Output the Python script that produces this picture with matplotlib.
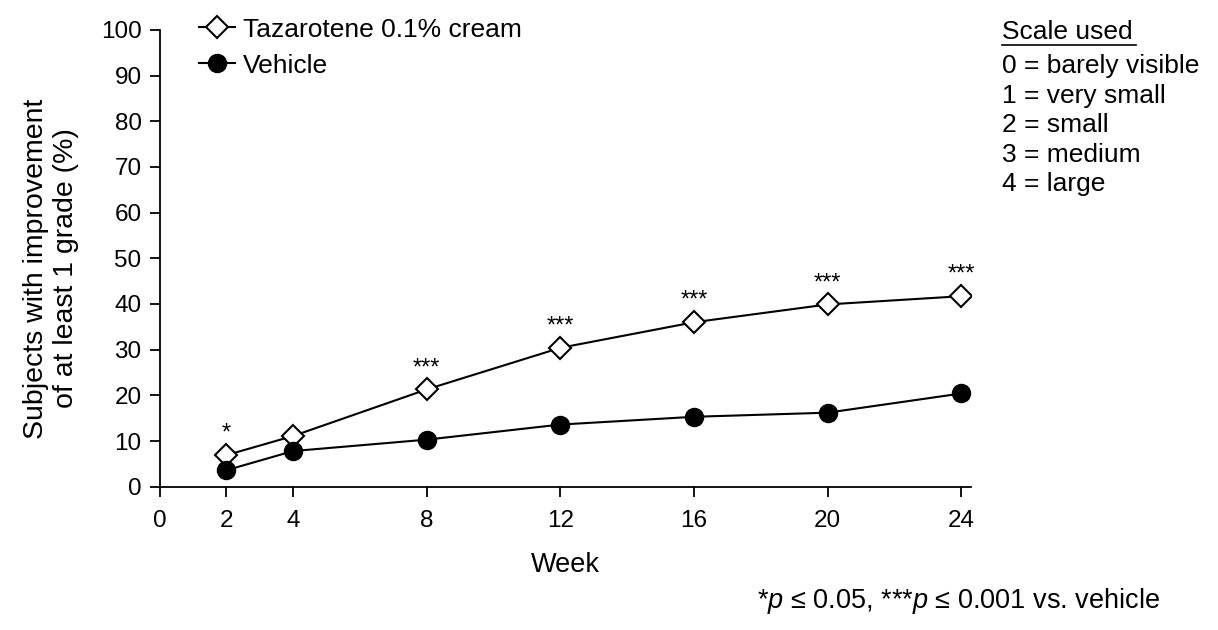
import numpy as np
import matplotlib.pyplot as plt

plt.rcParams['font.family'] = ['Liberation Sans', 'DejaVu Sans']
plt.rcParams['mathtext.fontset'] = 'custom'
plt.rcParams['mathtext.rm'] = 'Liberation Sans'
plt.rcParams['mathtext.it'] = 'Liberation Sans:italic'

weeks = [2, 4, 8, 12, 16, 20, 24]
tazarotene = [6.9, 11.1, 21.3, 30.4, 36.0, 39.9, 41.7]
vehicle = [3.6, 7.8, 10.3, 13.6, 15.3, 16.2, 20.4]
signif = ['*', '', '***', '***', '***', '***', '***']
x_ticks = [0, 2, 4, 8, 12, 16, 20, 24]
scale_lines = ['0 = barely visible', '1 = very small', '2 = small',
               '3 = medium', '4 = large']

fig = plt.figure(figsize=(12.18, 6.3), dpi=100)
ax = fig.add_axes([0.131, 0.2275, 0.6664, 0.725])

ax.plot(weeks, tazarotene, color='black', lw=1.5, marker='D', ms=11,
        mfc='white', mec='black', mew=1.5, label='Tazarotene 0.1% cream',
        zorder=3)
ax.plot(weeks, vehicle, color='black', lw=1.5, marker='o', ms=13,
        mfc='black', mec='black', label='Vehicle', zorder=3)

for w, t, s in zip(weeks, tazarotene, signif):
  if s:
    ax.annotate(s, (w, t), xytext=(0, 11), textcoords='offset points',
                ha='center', va='baseline', fontsize=17)

ax.set_xlim(0, 24.3)
ax.set_ylim(0, 100)
ax.set_xticks(x_ticks)
ax.set_yticks(np.arange(0, 101, 10))
ax.tick_params(direction='out', length=7, width=1.3, labelsize=17.5)
ax.tick_params(axis='x', pad=10)
ax.tick_params(axis='y', pad=6)
for sp in ['top', 'right']:
  ax.spines[sp].set_visible(False)
for sp in ['left', 'bottom']:
  ax.spines[sp].set_linewidth(1.3)

ax.set_xlabel('Week', fontsize=19.5, labelpad=14)
ax.set_ylabel('Subjects with improvement\nof at least 1 grade (%)',
              fontsize=20.5, linespacing=1.2)
ax.yaxis.set_label_coords(-0.099, 0.478)

ax.legend(loc='upper left', bbox_to_anchor=(0.035, 1.05), frameon=False,
          fontsize=19, handlelength=1.4, handletextpad=0.3,
          labelspacing=0.45, borderaxespad=0)

fig.text(0.823, 0.949, 'Scale used', fontsize=19, ha='left', va='center')
fig.add_artist(plt.Line2D([0.823, 0.933], [0.928, 0.928], color='black',
                          lw=1.2))
for i, s in enumerate(scale_lines):
  fig.text(0.823, 0.895 - i * 0.0468, s, fontsize=19, ha='left',
           va='center')

fig.text(0.952, 0.046,
         '*$\\it{p}$ \u2264 0.05, ***$\\it{p}$ \u2264 0.001 vs. vehicle',
         fontsize=19.5, ha='right', va='center')

plt.savefig('out.png', dpi=100)
